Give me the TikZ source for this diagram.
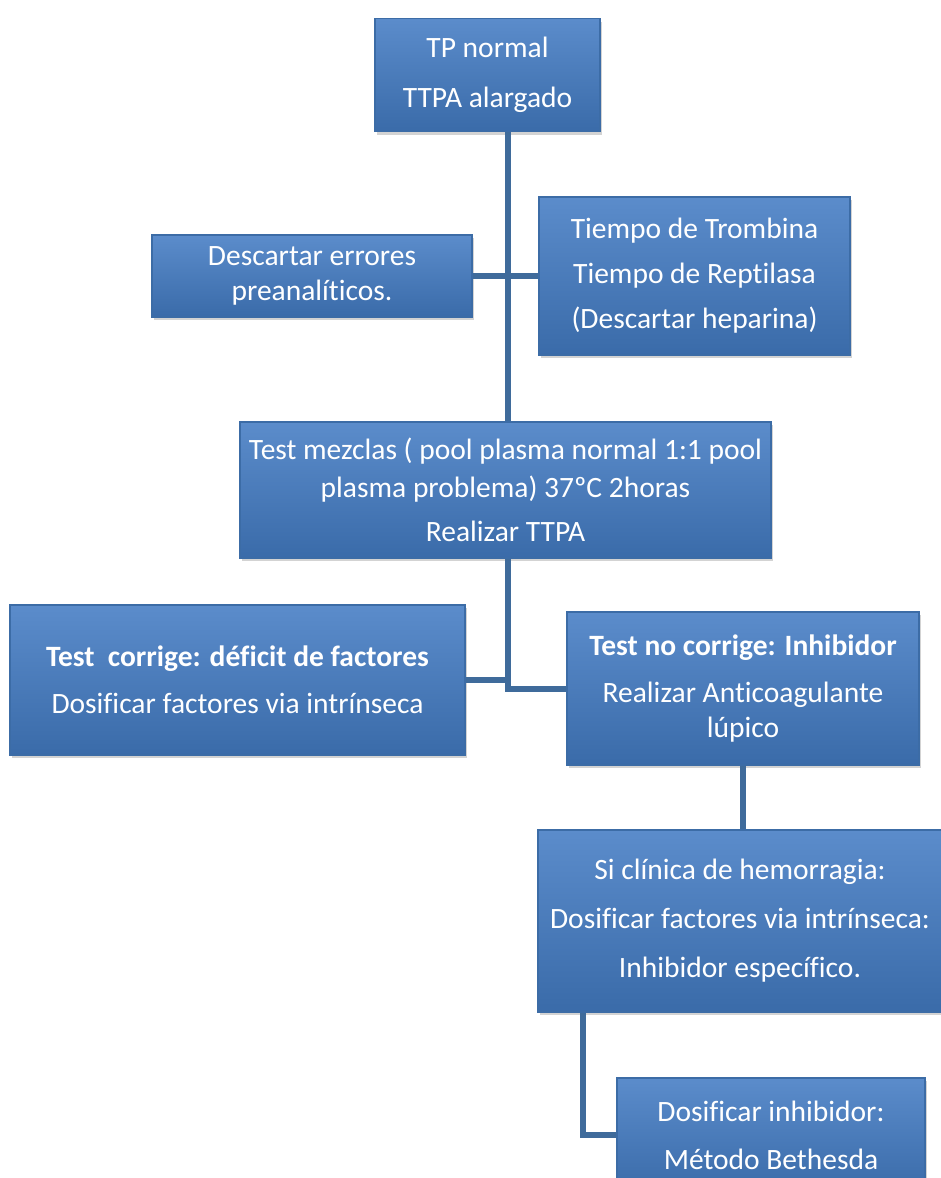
\documentclass[tikz,border=0pt]{standalone}
\usepackage{fontspec}
\setmainfont{Carlito}[Ligatures=NoCommon]
\usetikzlibrary{shadings,shadows}

\definecolor{cajaArriba}{HTML}{5B8CCB}
\definecolor{cajaMedio}{HTML}{4A7DBE}
\definecolor{cajaAbajo}{HTML}{3A6BA9}
\definecolor{cajaBorde}{HTML}{3C6CA6}
\definecolor{lineaAzul}{HTML}{3F6B9B}

\begin{document}
\begin{tikzpicture}[x=1pt,y=-1pt,
  caja/.style={rectangle,draw=cajaBorde,line width=1.2pt,
    top color=cajaArriba,middle color=cajaMedio,bottom color=cajaAbajo,
    drop shadow={opacity=0.35,shadow xshift=2pt,shadow yshift=-3pt},
    text=white,align=center,inner sep=0pt,
    font=\fontsize{29.5}{35}\selectfont},
  linea/.style={draw=lineaAzul,line width=6pt}]
\useasboundingbox (0,0) rectangle (940,1178);
\coordinate (ejeA) at (508,0);
\coordinate (ejeB) at (583,0);
\node[caja,minimum width=225pt,minimum height=113pt] (b1) at (487.5,75) {TP normal\\[15pt]TTPA alargado};
\node[caja,minimum width=320pt,minimum height=82pt] (b2) at (312,276) {Descartar errores\\preanalíticos.};
\node[caja,minimum width=311pt,minimum height=158pt] (b3) at (694.5,276) {Tiempo de Trombina\\[10pt]Tiempo de Reptilasa\\[10pt](Descartar heparina)};
\node[caja,minimum width=531pt,minimum height=136pt] (b4) at (505.5,490) {Test mezclas ( pool plasma normal 1:1 pool\\[3pt]plasma problema) 37ºC 2horas\\[9pt]Realizar TTPA};
\node[caja,minimum width=455pt,minimum height=150pt] (b5) at (237.5,680) {\textbf{Test\ \ corrige: déficit de factores}\\[12pt]Dosificar factores via intrínseca};
\node[caja,minimum width=352pt,minimum height=153pt] (b6) at (743,688.5) {\textbf{Test no corrige: Inhibidor}\\[12pt]Realizar Anticoagulante\\lúpico};
\node[caja,minimum width=404pt,minimum height=182pt] (b7) at (740,921) {Si clínica de hemorragia:\\[14pt]Dosificar factores via intrínseca:\\[14pt]Inhibidor específico.};
\node[caja,minimum width=308pt,minimum height=114pt] (b8) at (771,1135) {Dosificar inhibidor:\\[13pt]Método Bethesda};
\draw[linea] (b1.south -| ejeA) -- (b4.north -| ejeA);
\draw[linea] (b2.east) -- (b3.west);
\draw[linea] (b4.south -| ejeA) |- (b6.west);
\draw[linea] (b5.east) -- (b5.east -| ejeA);
\draw[linea] (b6.south) -- (b6.south |- b7.north);
\draw[linea] (b7.south -| ejeB) |- (b8.west);
\end{tikzpicture}
\end{document}
